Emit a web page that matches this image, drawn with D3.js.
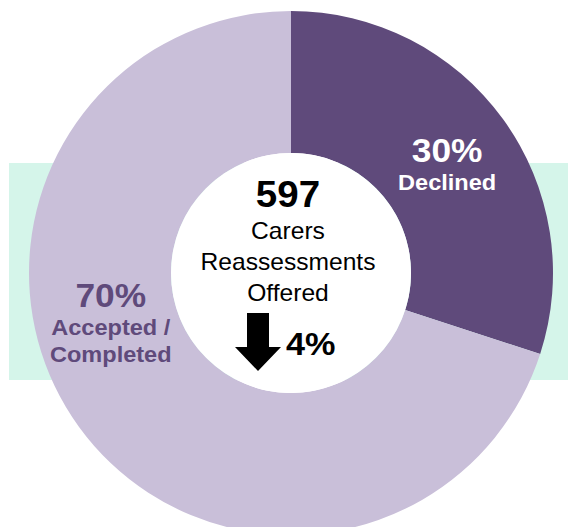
<!DOCTYPE html>
<html>
<head>
<meta charset="utf-8">
<script src="https://cdn.jsdelivr.net/npm/d3@7"></script>
<style>
  html, body { margin: 0; padding: 0; background: #fff; }
  svg { display: block; font-family: "Liberation Sans", Arial, sans-serif; }
</style>
</head>
<body>
<div id="chart"></div>
<script>
// data
var categories = ['Declined', 'Accepted / Completed'];
var shares = [30, 70];
var shareLabels = ['30%', '70%'];
var labelLines = [['Declined'], ['Accepted /', 'Completed']];
var totalOffered = 597;
var centreLines = ['Carers', 'Reassessments', 'Offered'];
var changePct = 4;

var W = 568, H = 527;
var cx = 291, cy = 273, outerR = 262, innerR = 120;
var colours = { 'Declined': '#5f4a7b', 'Accepted / Completed': '#c9bfd9' };
var labelColours = { 'Declined': '#ffffff', 'Accepted / Completed': '#5f4a7b' };
// polar spot for each label (degrees clockwise from top, radius)
var labelSpots = { 'Declined': [54.6, 191.5], 'Accepted / Completed': [-104.3, 186] };
var stretch = 1.07;

var svg = d3.select('#chart').append('svg')
    .attr('width', W)
    .attr('height', H);

// mint band behind the ring
svg.append('rect')
    .attr('x', 9).attr('y', 163)
    .attr('width', W - 9).attr('height', 217)
    .attr('fill', '#d5f5ea');

var g = svg.append('g').attr('transform', 'translate(' + cx + ',' + cy + ')');

var rows = categories.map(function(c, i){ return {name: c, value: shares[i], label: shareLabels[i], lines: labelLines[i]}; });

var pie = d3.pie().sort(null).value(function(d){ return d.value; });
var arc = d3.arc().innerRadius(innerR).outerRadius(outerR);

g.selectAll('path.slice')
    .data(pie(rows))
    .enter()
    .append('path')
    .attr('class', 'slice')
    .attr('d', arc)
    .attr('fill', function(d){ return colours[d.data.name]; });

g.append('circle').attr('r', innerR).attr('fill', '#fff');

// slice labels
var lab = g.selectAll('g.lab')
    .data(rows)
    .enter()
    .append('g')
    .attr('class', 'lab')
    .attr('transform', function(d){
        var s = labelSpots[d.name], a = s[0] * Math.PI / 180;
        return 'translate(' + (s[1] * Math.sin(a)) + ',' + (-s[1] * Math.cos(a)) + ') scale(' + stretch + ',1)';
    })
    .attr('fill', function(d){ return labelColours[d.name]; })
    .attr('text-anchor', 'middle')
    .attr('font-weight', 'bold');

lab.append('text')
    .attr('y', function(d){ return d.lines.length > 1 ? -12 : 0; })
    .attr('font-size', 33)
    .text(function(d){ return d.label; });

lab.each(function(d){
    var sel = d3.select(this);
    d.lines.forEach(function(l, i){
        sel.append('text')
            .attr('y', (d.lines.length > 1 ? -12 : 0) + 28 + i * 27)
            .attr('font-size', 22)
            .text(l);
    });
});

// centre text
var mid = g.append('g').attr('text-anchor', 'middle').attr('fill', '#000');
mid.append('text')
    .attr('transform', 'translate(-3,' + (207 - cy) + ') scale(' + stretch + ',1)')
    .attr('font-size', 36).attr('font-weight', 'bold')
    .text(totalOffered);
centreLines.forEach(function(l, i){
    mid.append('text')
        .attr('transform', 'translate(-3,' + (239 - cy + i * 31) + ') scale(' + stretch + ',1)')
        .attr('font-size', 23)
        .text(l);
});

// down arrow and change
var ax = 258 - cx, ay = 313 - cy;
g.append('path')
    .attr('d', d3.line()([[ax - 11, ay], [ax + 11, ay], [ax + 11, ay + 34], [ax + 23, ay + 34],
                         [ax, ay + 58], [ax - 23, ay + 34], [ax - 11, ay + 34]]) + 'Z')
    .attr('fill', '#000');
g.append('text')
    .attr('transform', 'translate(' + (286 - cx) + ',' + (355 - cy) + ') scale(' + stretch + ',1)')
    .attr('font-size', 32).attr('font-weight', 'bold')
    .text(changePct + '%');
</script>
</body>
</html>
